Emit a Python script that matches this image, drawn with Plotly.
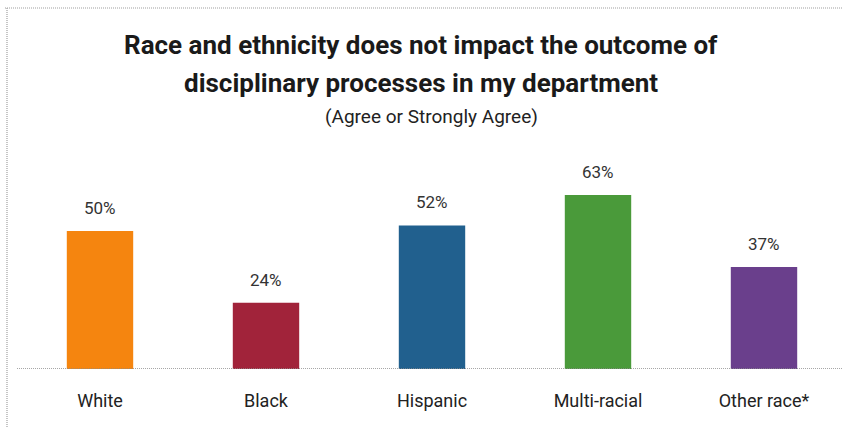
import plotly.graph_objects as go

categories = ["White", "Black", "Hispanic", "Multi-racial", "Other race*"]
agree_pct = [50, 24, 52, 63, 37]
bar_colors = ["#F5850F", "#A1233A", "#21608E", "#4A9A3A", "#6A3F8C"]

W, H = 843, 427
base_px = 369           # pixel row of the baseline
px_per_pct = 2.76
first_center, step = 100, 166

x_idx = list(range(len(categories)))
x_lo = -first_center / step
x_hi = (W - first_center) / step
y_hi = base_px / px_per_pct

fig = go.Figure()
fig.add_trace(go.Bar(
    x=x_idx, y=agree_pct, width=0.4,
    marker=dict(color=bar_colors, line=dict(width=0)),
    hoverinfo="skip",
))

font = "Roboto, Arial, sans-serif"

# value labels above each bar
for i, v in zip(x_idx, agree_pct):
    fig.add_annotation(x=i, y=v, text=f"{v}%", showarrow=False,
                       xref="x", yref="y", yanchor="bottom", yshift=11,
                       font=dict(family=font, size=17, color="#333333"))

# baseline
fig.add_shape(type="line", xref="x", yref="y", x0=-0.5, x1=x_hi, y0=0, y1=0,
              line=dict(color="#8a8a8a", width=1.5, dash="1px,1px"))

# frame lines (top and left)
def py(p):
    return (base_px - p) / base_px
fig.add_shape(type="line", xref="paper", yref="paper",
              x0=5 / W, x1=1, y0=py(8), y1=py(8),
              line=dict(color="#a0a0a0", width=1.2, dash="1px,1px"))
fig.add_shape(type="line", xref="paper", yref="paper",
              x0=7 / W, x1=7 / W, y0=py(8), y1=py(H),
              line=dict(color="#a0a0a0", width=1.2, dash="1px,1px"))

# titles
fig.add_annotation(text="<b>Race and ethnicity does not impact the outcome of</b>",
                   xref="paper", yref="paper", x=421 / W, y=py(45),
                   showarrow=False, yanchor="middle",
                   font=dict(family=font, size=26, color="#1a1a1a"))
fig.add_annotation(text="<b>disciplinary processes in my department</b>",
                   xref="paper", yref="paper", x=421 / W, y=py(83),
                   showarrow=False, yanchor="middle",
                   font=dict(family=font, size=26, color="#1a1a1a"))
fig.add_annotation(text="(Agree or Strongly Agree)",
                   xref="paper", yref="paper", x=431 / W, y=py(117),
                   showarrow=False, yanchor="middle",
                   font=dict(family=font, size=19, color="#222222"))

fig.update_layout(
    width=W, height=H,
    margin=dict(l=0, r=0, t=0, b=H - base_px, pad=0),
    paper_bgcolor="white", plot_bgcolor="white",
    showlegend=False,
    xaxis=dict(range=[x_lo, x_hi], tickvals=x_idx, ticktext=categories,
               showgrid=False, zeroline=False, showline=False,
               ticks="outside", ticklen=15, tickcolor="rgba(0,0,0,0)",
               tickfont=dict(family=font, size=18, color="#222222"),
               fixedrange=True),
    yaxis=dict(range=[0, y_hi], visible=False, fixedrange=True),
)

fig.write_html("out.html", config={"displayModeBar": False})
